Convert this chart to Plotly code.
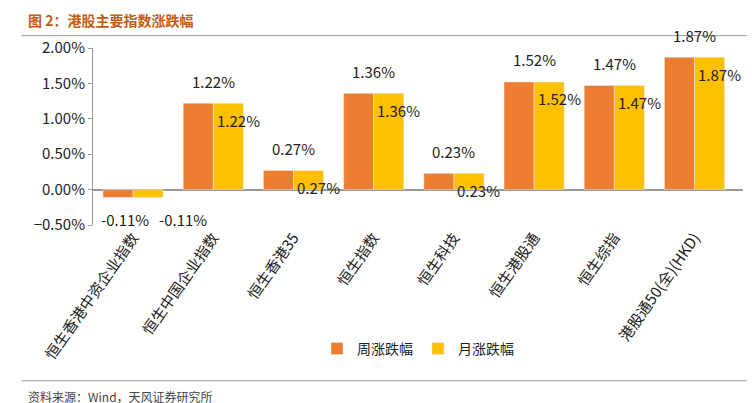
import plotly.graph_objects as go

categories = ["恒生香港中资企业指数", "恒生中国企业指数", "恒生香港35", "恒生指数", "恒生科技", "恒生港股通", "恒生综指", "港股通50(全)(HKD)"]
weekly = [-0.11, 1.22, 0.27, 1.36, 0.23, 1.52, 1.47, 1.87]
monthly = [-0.11, 1.22, 0.27, 1.36, 0.23, 1.52, 1.47, 1.87]

font = "Noto Sans CJK SC"
fig = go.Figure()
fig.add_bar(x=categories, y=[v/100 for v in weekly], name="周涨跌幅", marker_color="#ED7D31")
fig.add_bar(x=categories, y=[v/100 for v in monthly], name="月涨跌幅", marker_color="#FFC000")

ann = []
for c, w, m in zip(categories, weekly, monthly):
    neg = w < 0
    ann.append(dict(x=c, y=w/100, text=f"{w:.2f}%", showarrow=False, xshift=-8 if neg else 0,
                    yshift=-22 if neg else 22, font=dict(size=15, color="#222")))
    ann.append(dict(x=c, y=m/100, text=f"{m:.2f}%", showarrow=False, xshift=50 if neg else 25,
                    yshift=-22 if neg else -17, font=dict(size=15, color="#222")))

ann.append(dict(xref="paper", yref="paper", x=-0.103, y=1.16, xanchor="left", yanchor="middle",
                text="<b>图 2：港股主要指数涨跌幅</b>", showarrow=False, font=dict(size=14, color="#C55A11")))
ann.append(dict(xref="paper", yref="paper", x=-0.103, y=-0.97, xanchor="left", yanchor="middle",
                text="资料来源：Wind，天风证券研究所", showarrow=False, font=dict(size=12, color="#444")))
fig.update_layout(
    width=755, height=403, margin=dict(l=85, r=20, t=40, b=186),
    plot_bgcolor="white", paper_bgcolor="white", font=dict(family=font, size=15, color="#222"),
    barmode="group", bargap=0.25, bargroupgap=0,
    annotations=ann,
    legend=dict(orientation="h", x=0.5, xanchor="center", y=-0.70, yanchor="middle", font=dict(size=14)),
    xaxis=dict(tickangle=-55, showline=False, ticks=""),
    yaxis=dict(range=[-0.005, 0.02], dtick=0.005, tickformat=".2%", showgrid=False,
               showline=True, linecolor="#999", zeroline=True, zerolinecolor="#999",
               ticks="outside", tickcolor="#999", ticklen=4),
    shapes=[dict(type="line", xref="paper", yref="paper", x0=-0.11, x1=1.03, y0=1.07, y1=1.07, line=dict(color="#999", width=1)),
            dict(type="line", xref="paper", yref="paper", x0=-0.11, x1=1.03, y0=-0.88, y1=-0.88, line=dict(color="#999", width=1))],
)
fig.write_html("out.html")
